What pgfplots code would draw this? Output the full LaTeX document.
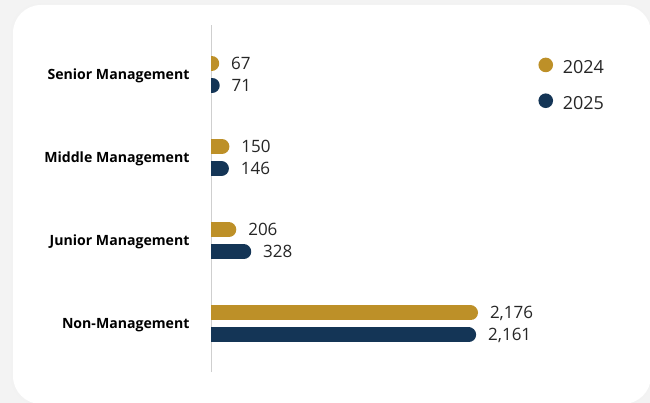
\documentclass[border=0pt]{standalone}
\usepackage{pgfplots}
\pgfplotsset{compat=1.18}
\usepackage{fontspec}
\setmainfont{Open Sans}
\definecolor{gold}{HTML}{BD9028}
\definecolor{navy}{HTML}{143556}
\definecolor{bg}{HTML}{F3F3F3}
\definecolor{axisgray}{HTML}{CFCFCF}
\begin{document}
\begin{tikzpicture}[x=1pt,y=1pt]
\useasboundingbox (0,0) rectangle (650,403);
\fill[bg] (0,0) rectangle (650,403);
\fill[black!5,rounded corners=28pt] (11,-2) rectangle (652,399);
\fill[white,rounded corners=28pt] (13,-1) rectangle (651,398);
\begin{axis}[
  at={(211pt,79pt)}, anchor=origin,
  x=0.1227pt, y=83.2pt,
  xmin=0, xmax=3000,
  ymin=-0.577, ymax=3.594,
  axis x line=none,
  axis y line*=left,
  y axis line style={axisgray, line width=1pt, -},
  ytick={0,1,2,3},
  yticklabels={Non-Management,Junior Management,Middle Management,Senior Management},
  yticklabel style={font=\fontsize{14.1}{14}\selectfont\bfseries, xshift=-18pt, yshift=-1.5pt},
  major tick length=0pt,
  xcomb,
  point meta=x,
  nodes near coords,
  nodes near coords style={font=\fontsize{17}{17}\selectfont, anchor=west, inner sep=0pt, xshift=12pt, text=black!85},
  /pgf/number format/.cd, 1000 sep={,}, fixed, precision=0, assume math mode=true,
  /pgfplots/.cd,
  legend style={at={(0.889,0.907)}, anchor=north west, draw=none, fill=none,
    font=\fontsize{18}{18}\selectfont, row sep=16pt, inner sep=0pt, text=black!85},
  legend cell align=left,
]
\addplot[draw=gold, line width=15pt, line cap=round, xshift=-7.5pt, yshift=11pt, mark=none,
  legend image code/.code={\fill[gold, draw=none, yshift=-11pt] (0pt,0.3em) circle (7.3pt); \path[yshift=-11pt] (7.5pt,0.3em);}]
  coordinates {(2176,0) (206,1) (150,2) (67,3)};
\addlegendentry{2024}
\addplot[draw=navy, line width=15pt, line cap=round, xshift=-7.5pt, yshift=-11pt, mark=none,
  legend image code/.code={\fill[navy, draw=none, yshift=11pt] (0pt,0.3em) circle (7.3pt); \path[yshift=11pt] (7.5pt,0.3em);}]
  coordinates {(2161,0) (328,1) (146,2) (71,3)};
\addlegendentry{2025}
\end{axis}
\end{tikzpicture}
\end{document}
